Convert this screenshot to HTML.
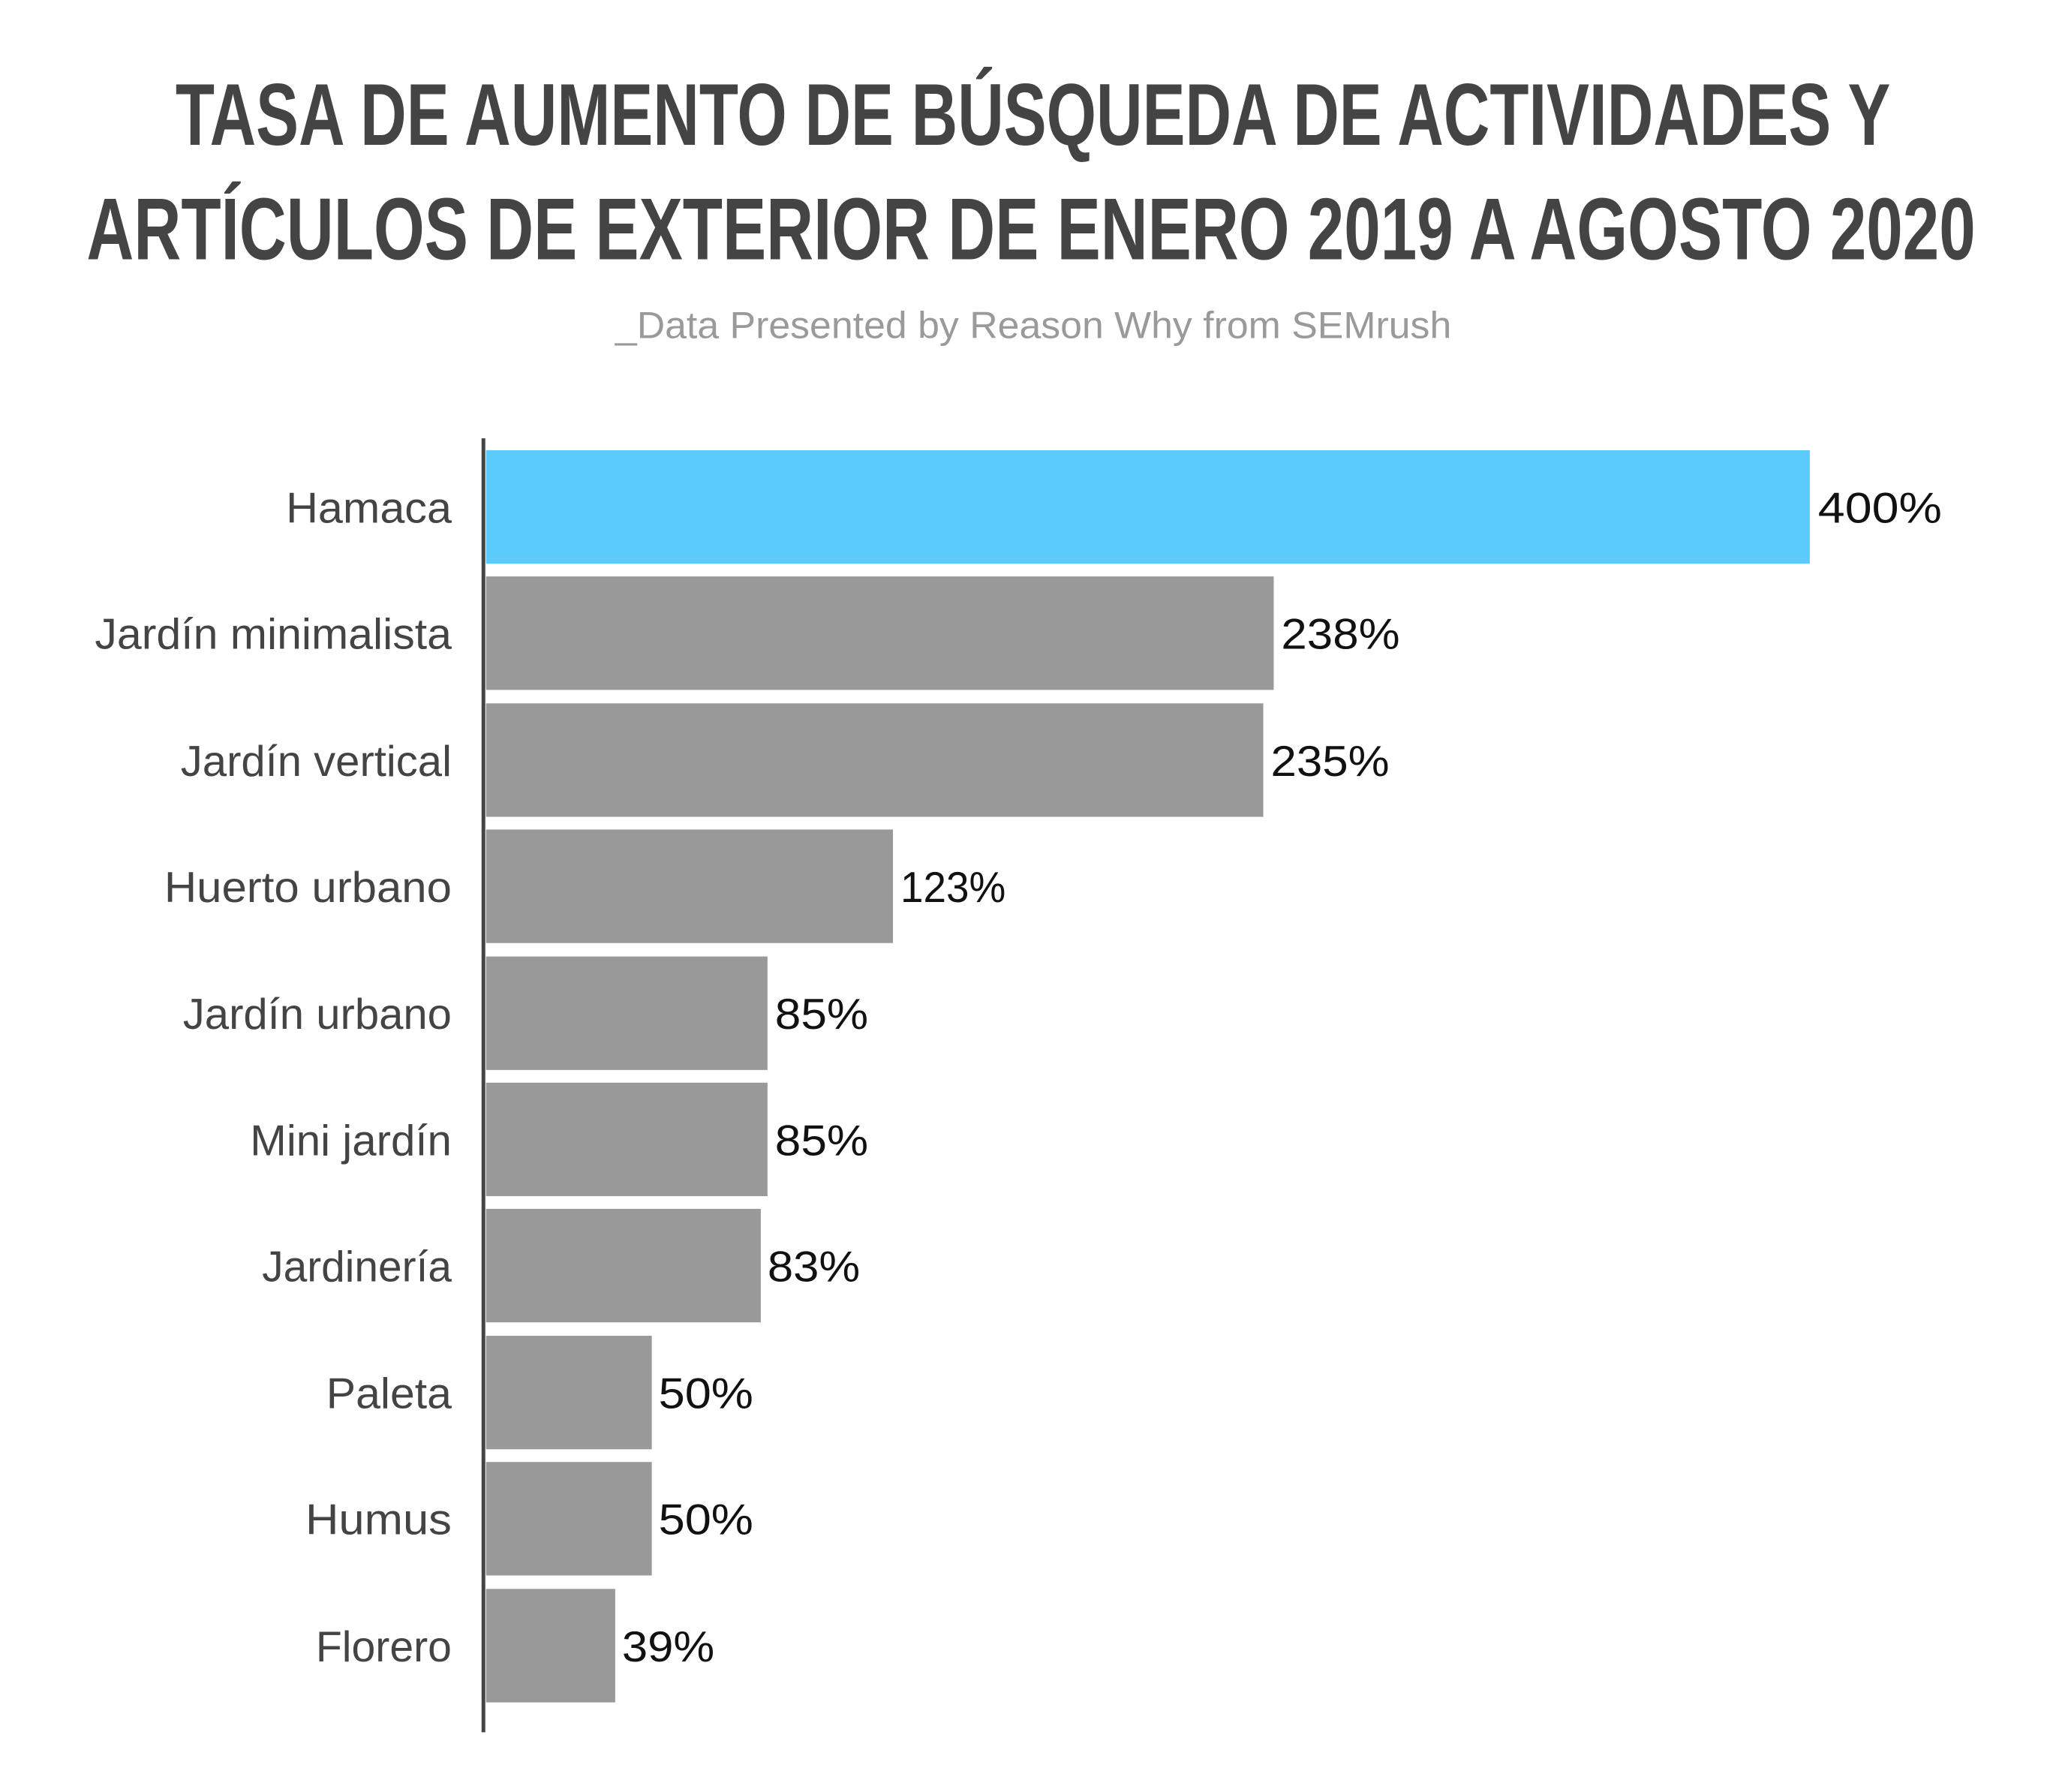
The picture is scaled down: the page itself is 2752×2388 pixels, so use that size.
<!DOCTYPE html>
<html><head><meta charset="utf-8"><style>html,body{margin:0;padding:0;background:#fff}svg{display:block}</style></head>
<body>
<svg width="2752" height="2388" viewBox="0 0 2752 2388" xmlns="http://www.w3.org/2000/svg">
<rect width="2752" height="2388" fill="#fff"/>
<g transform="scale(0.995)">
<g font-family="'Liberation Sans Narrow','Liberation Sans',sans-serif" font-weight="bold" fill="#444" font-size="118">
<text x="235" y="194" textLength="2297" lengthAdjust="spacingAndGlyphs">TASA DE AUMENTO DE BÚSQUEDA DE ACTIVIDADES Y</text>
<text x="116" y="347" textLength="2530" lengthAdjust="spacingAndGlyphs">ARTÍCULOS DE EXTERIOR DE ENERO 2019 A AGOSTO 2020</text>
</g>
<text x="824" y="453" textLength="1120" lengthAdjust="spacingAndGlyphs" font-family="'Liberation Sans','Liberation Sans Narrow',sans-serif" font-size="50" fill="#9a9a9a">_Data Presented by Reason Why from SEMrush</text>
<rect x="645" y="587" width="5" height="1733" fill="#444"/>
<g font-family="'Liberation Sans Narrow','Liberation Sans',sans-serif" font-size="58">
<rect x="651" y="603" width="1773" height="152" fill="#5acbfb"/>
<rect x="651" y="772" width="1055" height="152" fill="#999"/>
<rect x="651" y="942" width="1041" height="152" fill="#999"/>
<rect x="651" y="1111" width="545" height="152" fill="#999"/>
<rect x="651" y="1281" width="377" height="152" fill="#999"/>
<rect x="651" y="1450" width="377" height="152" fill="#999"/>
<rect x="651" y="1619" width="368" height="152" fill="#999"/>
<rect x="651" y="1789" width="222" height="152" fill="#999"/>
<rect x="651" y="1958" width="222" height="152" fill="#999"/>
<rect x="651" y="2128" width="173" height="152" fill="#999"/>
<g fill="#444" text-anchor="end">
<text x="605" y="700" textLength="222" lengthAdjust="spacingAndGlyphs">Hamaca</text>
<text x="605" y="869" textLength="478" lengthAdjust="spacingAndGlyphs">Jardín minimalista</text>
<text x="605" y="1039" textLength="363" lengthAdjust="spacingAndGlyphs">Jardín vertical</text>
<text x="605" y="1208" textLength="385" lengthAdjust="spacingAndGlyphs">Huerto urbano</text>
<text x="605" y="1378" textLength="360" lengthAdjust="spacingAndGlyphs">Jardín urbano</text>
<text x="605" y="1547" textLength="270" lengthAdjust="spacingAndGlyphs">Mini jardín</text>
<text x="605" y="1716" textLength="254" lengthAdjust="spacingAndGlyphs">Jardinería</text>
<text x="605" y="1886" textLength="168" lengthAdjust="spacingAndGlyphs">Paleta</text>
<text x="605" y="2055" textLength="196" lengthAdjust="spacingAndGlyphs">Humus</text>
<text x="605" y="2225" textLength="182" lengthAdjust="spacingAndGlyphs">Florero</text>
</g>
<g fill="#111">
<text x="2435" y="700" textLength="166" lengthAdjust="spacingAndGlyphs">400%</text>
<text x="1716" y="869" textLength="159" lengthAdjust="spacingAndGlyphs">238%</text>
<text x="1702" y="1039" textLength="159" lengthAdjust="spacingAndGlyphs">235%</text>
<text x="1206" y="1208" textLength="141" lengthAdjust="spacingAndGlyphs">123%</text>
<text x="1038" y="1378" textLength="125" lengthAdjust="spacingAndGlyphs">85%</text>
<text x="1038" y="1547" textLength="125" lengthAdjust="spacingAndGlyphs">85%</text>
<text x="1028" y="1716" textLength="124" lengthAdjust="spacingAndGlyphs">83%</text>
<text x="882" y="1886" textLength="127" lengthAdjust="spacingAndGlyphs">50%</text>
<text x="882" y="2055" textLength="127" lengthAdjust="spacingAndGlyphs">50%</text>
<text x="833" y="2225" textLength="124" lengthAdjust="spacingAndGlyphs">39%</text>
</g>
</g>
</g>
</svg>
</body></html>
